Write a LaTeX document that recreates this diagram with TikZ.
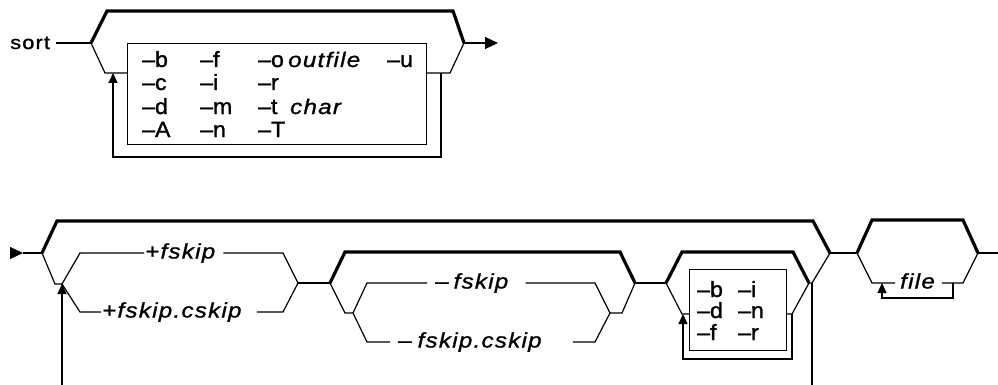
\documentclass[tikz,border=0pt]{standalone}
\usepackage{fontspec}
\setmainfont[FakeStretch=1.05,FakeBold=1.3]{Liberation Sans}
\newfontfamily\sortfont[FakeStretch=1.15,LetterSpace=6,FakeBold=1.3]{Liberation Sans}
\newfontfamily\optbase[FakeStretch=1.15,LetterSpace=6,FakeBold=1.1]{Liberation Sans}
\usetikzlibrary{arrows.meta}
\tikzset{
  rail/.style={line width=1.2pt},
  bypass/.style={line width=3.2pt},
  opt/.style={anchor=base west, inner sep=0pt, font=\fontsize{22}{26}\selectfont},
  var/.style={anchor=base west, inner sep=0pt, font=\optbase\itshape\fontsize{21}{25}\selectfont},
  lbl/.style={anchor=west, inner xsep=1pt, inner ysep=0pt, text height=15.5pt, text depth=4.5pt,
    font=\optbase\itshape\fontsize{21}{25}\selectfont},
  endtip/.style={-{Triangle[length=13pt,width=12pt]}},
  uptip/.style={-{Triangle[length=10pt,width=9pt]}},
  optbox/.style={draw, rail, anchor=north west, inner sep=0pt}
}
\begin{document}
\begin{tikzpicture}[x=1pt,y=-1pt]
\useasboundingbox (0,0) rectangle (998,385);

% ---------------- top diagram ----------------
\node[anchor=base west, inner sep=0pt, font=\sortfont\fontsize{19}{23}\selectfont] (sort) at (10,49) {sort};
\coordinate (TL) at (91,43);
\coordinate (TLu) at (107,11);
\coordinate (TRu) at (453,11);
\coordinate (TR) at (464,43);
\coordinate (TLd) at (105,73);
\coordinate (TRd) at (450,73);
\coordinate (Ttip) at (498,43);
\node[optbox, minimum width=299pt, minimum height=101pt] (box1) at (127,43) {};

\draw[rail] ([xshift=6pt]sort.east |- TL) -- (TL);
\draw[bypass] (TL) -- (TLu) -- (TRu) -- (TR);
\draw[rail] (TL) -- (TLd) -- (box1.west |- TLd);
\draw[rail] (box1.east |- TRd) -- (TRd) -- (TR);
\draw[rail, endtip] (TR) -- (Ttip);

\coordinate (lp1a) at (441,73);
\coordinate (lp1b) at (441,157);
\coordinate (lp1c) at (113,157);
\coordinate (lp1d) at (113,73);
\draw[rail, uptip] (lp1a) -- (lp1b) -- (lp1c) -- (lp1d);

% options in the box
\node[opt] (ob) at (142,67) {–b};
\node[opt] (of) at (200,67) {–f};
\node[opt] (oo) at (258,67) {–o};
\node[var] (outf) at (288,67) {outfile};
\node[opt] (ou) at (387,67) {–u};
\node[opt] (oc) at (142,90) {–c};
\node[opt] (oi) at (200,90) {–i};
\node[opt] (or) at (258,90) {–r};
\node[opt] (od) at (142,114) {–d};
\node[opt] (om) at (200,114) {–m};
\node[opt] (ot) at (258,114) {–t};
\node[var] (chr) at (290,114) {char};
\node[opt] (oA) at (142,137) {–A};
\node[opt] (on) at (200,137) {–n};
\node[opt] (oT) at (258,137) {–T};

% ---------------- bottom diagram ----------------
\coordinate (S0) at (10,253);
\coordinate (S1) at (23,253);
\draw[rail, endtip] (S0) -- (S1);

% outer group
\coordinate (O0) at (42,253);
\coordinate (Ou0) at (57,221);
\coordinate (Ou1) at (813,221);
\coordinate (O1) at (830,253);
\coordinate (Od0) at (55,284);
\coordinate (Od1) at (812,283);
\coordinate (Oll) at (62,392);
\coordinate (Olr) at (812,392);

% choice A
\coordinate (A0) at (62,284);
\coordinate (Aut) at (80,253);
\coordinate (Adn) at (80,312);
\coordinate (Aur) at (283,253);
\coordinate (Adr) at (283,312);
\coordinate (A1) at (298,283);
\node[lbl] (pfs) at (144,253) {+fskip};
\node[lbl] (pfc) at (101,312) {+fskip.cskip};

% group B and choice C
\coordinate (B0) at (330,283);
\coordinate (Bu0) at (345,252);
\coordinate (Bu1) at (620,252);
\coordinate (B1) at (635,283);
\coordinate (Bd0) at (345,313);
\coordinate (Bd1) at (622,313);
\coordinate (C0) at (353,313);
\coordinate (Cut) at (367,283);
\coordinate (Cdn) at (367,342);
\coordinate (Cur) at (595,283);
\coordinate (Cdr) at (595,342);
\coordinate (C1) at (610,313);
\node[lbl] (mfs) at (434,283) {–\kern5pt fskip};
\node[lbl] (mfc) at (397,342) {–\kern6pt fskip.cskip};

% group D
\coordinate (D0) at (666,283);
\coordinate (Du0) at (682,252);
\coordinate (Du1) at (793,252);
\coordinate (D1) at (809,283);
\coordinate (Dd0) at (682,314);
\coordinate (Dd1) at (792,314);
\node[optbox, minimum width=97pt, minimum height=81pt] (box2) at (689,269) {};
\coordinate (lp2b) at (792,359);
\coordinate (lp2c) at (683,359);
\coordinate (lp2d) at (683,314);
\node[opt] (qb) at (697,297) {–b};
\node[opt] (qi) at (738,297) {–i};
\node[opt] (qd) at (697,318) {–d};
\node[opt] (qn) at (738,318) {–n};
\node[opt] (qf) at (697,340) {–f};
\node[opt] (qr) at (738,340) {–r};

% group F
\coordinate (F0) at (857,253);
\coordinate (Fu0) at (872,220);
\coordinate (Fu1) at (963,220);
\coordinate (F1) at (978,253);
\coordinate (Fd0) at (872,283);
\coordinate (Fd1) at (963,283);
\coordinate (Fend) at (999,253);
\node[lbl] (file) at (899,283) {file};
\coordinate (lp3a) at (953,283);
\coordinate (lp3b) at (953,298);
\coordinate (lp3c) at (882,298);
\coordinate (lp3d) at (882,283);

% connectors
\draw[rail] (S1) -- (O0);
\draw[bypass] (O0) -- (Ou0) -- (Ou1) -- (O1);
\draw[rail] (O0) -- (Od0) -- (A0);
\draw[rail, uptip] (Oll) -- (A0);
\draw[rail] (Od1) -- (Olr);

\draw[rail] (A0) -- (Aut) -- (pfs.west);
\draw[rail] ([xshift=7pt]pfs.east) -- (Aur) -- (A1);
\draw[rail] (A0) -- (Adn) -- (pfc.west);
\draw[rail] ([xshift=14pt]pfc.east) -- (Adr) -- (A1);
\draw[rail] (A1) -- (B0);

\draw[bypass] (B0) -- (Bu0) -- (Bu1) -- (B1);
\draw[rail] (B0) -- (Bd0) -- (C0);
\draw[rail] (C1) -- (Bd1) -- (B1);
\draw[rail] (C0) -- (Cut) -- ([xshift=-7pt]mfs.west);
\draw[rail] ([xshift=16pt]mfs.east) -- (Cur) -- (C1);
\draw[rail] (C0) -- (Cdn) -- ([xshift=-7pt]mfc.west);
\draw[rail] ([xshift=30pt]mfc.east) -- (Cdr) -- (C1);
\draw[rail] (B1) -- (D0);

\draw[bypass] (D0) -- (Du0) -- (Du1) -- (D1);
\draw[rail] (D0) -- (Dd0) -- (box2.west |- Dd0);
\draw[rail] (box2.east |- Dd1) -- (Dd1) -- (D1);
\draw[rail, uptip] (Dd1) -- (lp2b) -- (lp2c) -- (lp2d);
\draw[rail] (D1) -- (Od1) -- (O1);

\draw[rail] (O1) -- (F0);
\draw[bypass] (F0) -- (Fu0) -- (Fu1) -- (F1);
\draw[rail] (F0) -- (Fd0) -- ([xshift=-4pt]file.west);
\draw[rail] ([xshift=6pt]file.east) -- (Fd1) -- (F1);
\draw[rail, uptip] (lp3a) -- (lp3b) -- (lp3c) -- (lp3d);
\draw[rail] (F1) -- (Fend);
\end{tikzpicture}
\end{document}
